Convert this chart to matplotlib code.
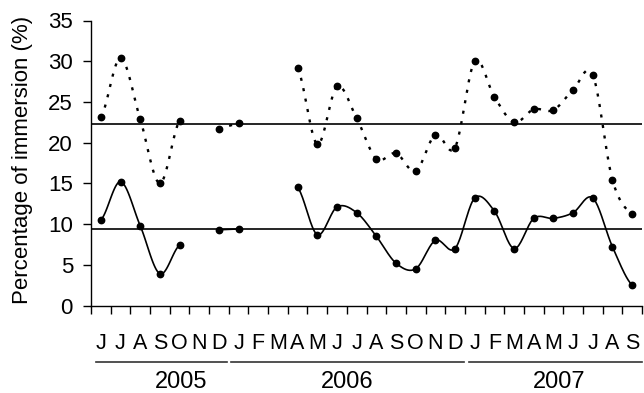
import numpy as np
import matplotlib
matplotlib.use("Agg")
import matplotlib.pyplot as plt
import matplotlib.transforms as mtransforms

plt.rcParams['font.family'] = ['Liberation Sans', 'DejaVu Sans']

months = ["J", "J", "A", "S", "O", "N", "D",
          "J", "F", "M", "A", "M", "J", "J", "A", "S", "O", "N", "D",
          "J", "F", "M", "A", "M", "J", "J", "A", "S"]
years = ["2005", "2006", "2007"]
nan = np.nan
upper = [23.1, 30.4, 22.9, 15.0, 22.7, nan, 21.7,
         22.4, nan, nan, 29.2, 19.8, 26.9, 23.0, 18.0, 18.7, 16.5, 21.0, 19.4,
         30.0, 25.6, 22.5, 24.1, 24.0, 26.5, 28.3, 15.4, 11.2]
lower = [10.5, 15.2, 9.8, 3.9, 7.4, nan, 9.3,
         9.4, nan, nan, 14.5, 8.7, 12.1, 11.4, 8.5, 5.2, 4.5, 8.0, 7.0,
         13.2, 11.6, 7.0, 10.7, 10.7, 11.4, 13.2, 7.2, 2.5]
upper_mean = 22.3
lower_mean = 9.4


def catmull(xs, ys, n=20):
    xs = np.asarray(xs, float); ys = np.asarray(ys, float)
    if len(xs) < 3:
        return xs, ys
    px = np.concatenate([[2 * xs[0] - xs[1]], xs, [2 * xs[-1] - xs[-2]]])
    py = np.concatenate([[ys[0]], ys, [ys[-1]]])
    ox, oy = [], []
    for i in range(1, len(px) - 2):
        t = np.linspace(0, 1, n, endpoint=False)
        for arr, out in ((px, ox), (py, oy)):
            p0, p1, p2, p3 = arr[i - 1], arr[i], arr[i + 1], arr[i + 2]
            out.extend(0.5 * ((2 * p1) + (-p0 + p2) * t +
                              (2 * p0 - 5 * p1 + 4 * p2 - p3) * t ** 2 +
                              (-p0 + 3 * p1 - 3 * p2 + p3) * t ** 3))
    ox.append(xs[-1]); oy.append(ys[-1])
    return np.array(ox), np.array(oy)


def segments(vals):
    x = np.arange(len(vals)) + 0.5
    v = np.asarray(vals, float)
    segs, cur = [], []
    for xi, vi in zip(x, v):
        if np.isnan(vi):
            if cur:
                segs.append(cur); cur = []
        else:
            cur.append((xi, vi))
    if cur:
        segs.append(cur)
    return segs


fig = plt.figure(figsize=(6.44, 3.93), dpi=100)
ax = fig.add_axes([91 / 644, (393 - 305.5) / 393, 551 / 644, 285 / 393])

for vals, ls, lw in ((upper, (0, (1.3, 3.2)), 1.7), (lower, '-', 1.2)):
    for seg in segments(vals):
        sx, sy = zip(*seg)
        cx, cy = catmull(sx, sy)
        ax.plot(cx, cy, color='black', linestyle=ls, linewidth=lw, clip_on=False)
        ax.plot(sx, sy, 'o', color='black', markersize=4.6, clip_on=False)

ax.axhline(upper_mean, color='black', linewidth=1.2)
ax.axhline(lower_mean, color='black', linewidth=1.2)

ax.set_xlim(0, len(months))
ax.set_ylim(0, 35)
ax.set_yticks(np.arange(0, 36, 5))
ax.set_xticks(np.arange(0, len(months) + 1))
ax.set_xticklabels([])
ax.tick_params(axis='both', direction='out', length=6, width=1.0, labelsize=16, pad=7)
for s in ('top', 'right'):
    ax.spines[s].set_visible(False)
for s in ('left', 'bottom'):
    ax.spines[s].set_linewidth(1.0)

trans = mtransforms.blended_transform_factory(ax.transData, ax.transAxes)
for i, m in enumerate(months):
    ax.text(i + 0.5, -0.153, m, transform=trans, ha='center', va='baseline',
            fontsize=15.5)

year_spans = [(0.25, 6.9), (7.1, 18.95), (19.2, 28.0)]
year_pos = [4.6, 13.0, 23.8]
for (a, b), yp, yl in zip(year_spans, year_pos, years):
    ax.plot([a, b], [-0.197, -0.197], transform=trans, color='#333333',
            linewidth=1.2, clip_on=False)
    ax.text(yp, -0.288, yl, transform=trans, ha='center', va='baseline',
            fontsize=17)

ax.set_ylabel("Percentage of immersion (%)", fontsize=16)
ax.yaxis.set_label_coords(-0.105, 0.51)

fig.savefig("out.png", dpi=100)
